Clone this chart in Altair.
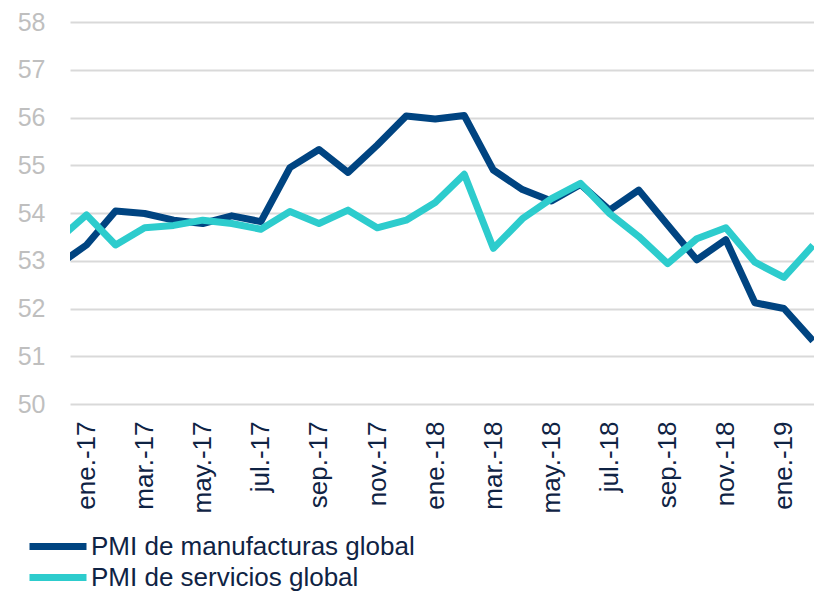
import json
import altair as alt
import pandas as pd

# Months (index -1 = dic.-16 is only partly visible at the left edge)
months = ["dic.-16", "ene.-17", "feb.-17", "mar.-17", "abr.-17", "may.-17", "jun.-17",
          "jul.-17", "ago.-17", "sep.-17", "oct.-17", "nov.-17", "dic.-17",
          "ene.-18", "feb.-18", "mar.-18", "abr.-18", "may.-18", "jun.-18",
          "jul.-18", "ago.-18", "sep.-18", "oct.-18", "nov.-18", "dic.-18",
          "ene.-19", "feb.-19"]
month_index = list(range(-1, 26))

manufacturas = [52.9, 53.33, 54.04, 53.99, 53.85, 53.78, 53.94, 53.82, 54.95, 55.33,
                54.85, 55.42, 56.03, 55.97, 56.04, 54.90, 54.49, 54.25, 54.60, 54.06,
                54.48, 53.75, 53.02, 53.44, 52.12, 52.00, 51.32]
servicios = [53.43, 53.96, 53.33, 53.69, 53.74, 53.85, 53.78, 53.66, 54.03, 53.78,
             54.06, 53.69, 53.85, 54.22, 54.81, 53.26, 53.88, 54.30, 54.62, 53.99,
             53.51, 52.94, 53.46, 53.69, 52.97, 52.65, 53.32]

series_names = ["PMI de manufacturas global", "PMI de servicios global"]
series_colors = ["#004481", "#2DCCCD"]

tick_values = list(range(0, 25, 2))
tick_labels = ["ene.-17", "mar.-17", "may.-17", "jul.-17", "sep.-17", "nov.-17",
               "ene.-18", "mar.-18", "may.-18", "jul.-18", "sep.-18", "nov.-18",
               "ene.-19"]
y_ticks = [50, 51, 52, 53, 54, 55, 56, 57, 58]

rows = []
for name, vals in zip(series_names, [manufacturas, servicios]):
    for i, m, v in zip(month_index, months, vals):
        rows.append({"idx": i, "mes": m, "serie": name, "valor": v,
                     "orden": series_names.index(name)})
df = pd.DataFrame(rows)

FONT = "Liberation Sans"
label_expr = json.dumps(tick_labels) + "[round(datum.value / 2)]"

chart = alt.Chart(df).mark_line(
    strokeWidth=7, strokeJoin="round", clip=True
).encode(
    x=alt.X("idx:Q",
            scale=alt.Scale(domain=[-0.568, 25.034], nice=False, zero=False),
            axis=alt.Axis(values=tick_values, labelExpr=label_expr, title=None,
                          grid=False, domain=False, ticks=False,
                          labelAngle=270, labelAlign="right", labelBaseline="middle",
                          labelPadding=17, labelFontSize=26, labelFont=FONT,
                          labelColor="#0f2344", labelOverlap=False, labelFlush=False)),
    y=alt.Y("valor:Q",
            scale=alt.Scale(domain=[50, 58], nice=False, zero=False),
            axis=alt.Axis(values=y_ticks, title=None, grid=True, gridColor="#d9d9d9",
                          gridWidth=2, domain=False, ticks=False, labelPadding=25,
                          labelFontSize=25, labelFont=FONT, labelColor="#bfbfbf",
                          format="d")),
    color=alt.Color("serie:N",
                    scale=alt.Scale(domain=series_names, range=series_colors),
                    legend=alt.Legend(title=None, orient="none", legendX=-44, legendY=509,
                                      symbolType="stroke", symbolSize=3249,
                                      symbolStrokeWidth=7, clipHeight=31, rowPadding=0,
                                      labelOffset=1, labelFontSize=26, labelFont=FONT,
                                      labelColor="#0f2344", labelLimit=600, padding=0)),
    detail="serie:N",
    order="orden:Q",
).properties(
    width=744, height=382,
    autosize=alt.AutoSizeParams(type="none"),
    padding={"left": 62, "top": 14, "right": 0, "bottom": 187},
).configure(background="white").configure_view(strokeWidth=0, stroke="transparent")

chart.save("out.html", embed_options={"renderer": "svg", "actions": False})
